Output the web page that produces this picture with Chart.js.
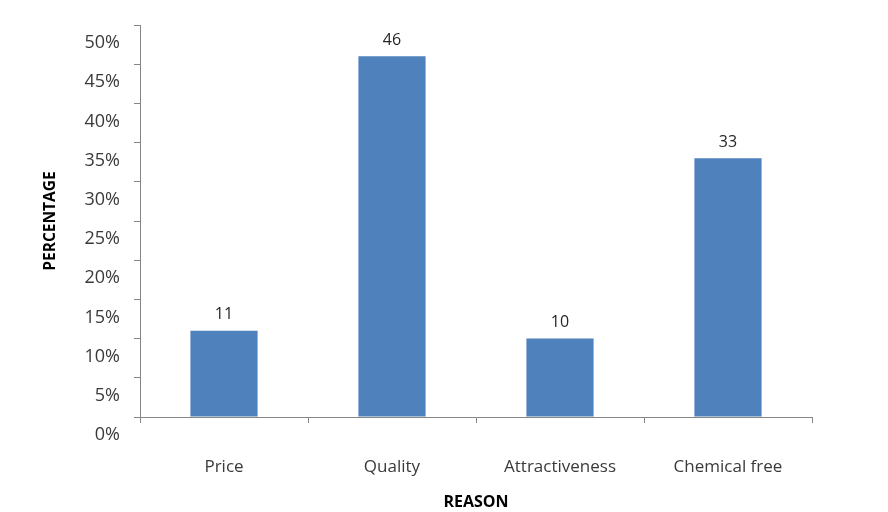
<!DOCTYPE html>
<html>
<head>
<meta charset="utf-8">
<script src="https://cdn.jsdelivr.net/npm/chart.js@4"></script>
<style>
  body { margin: 0; background: #ffffff; }
</style>
</head>
<body>
<canvas id="graficaRazones" width="888" height="512"></canvas>
<script>
var categorias = ["Price", "Quality", "Attractiveness", "Chemical free"];
var valores = [11, 46, 10, 33];
var etiquetasEje = ["0%", "5%", "10%", "15%", "20%", "25%", "30%", "35%", "40%", "45%", "50%"];

var colorBarra = "#4f81bd";
var colorEje = "#868686";
var colorTexto = "#3a3a3a";
var fuente = '"Open Sans", "Liberation Sans", sans-serif';

// pinta el numero encima de cada barra
var etiquetasValores = {
    id: 'etiquetasValores',
    afterDatasetsDraw: function (chart) {
        var ctx = chart.ctx;
        var meta = chart.getDatasetMeta(0);
        ctx.save();
        ctx.font = '16px ' + fuente;
        ctx.fillStyle = "#262626";
        ctx.textAlign = "center";
        ctx.textBaseline = "middle";
        meta.data.forEach(function (barra, i) {
            ctx.fillText(valores[i], barra.x, barra.y - 16);
        });
        ctx.restore();
    }
};

var ctx = document.getElementById('graficaRazones').getContext('2d');

new Chart(ctx, {
    type: 'bar',
    data: {
        labels: categorias,
        datasets: [{
            data: valores,
            backgroundColor: colorBarra,
            barPercentage: 0.4,
            categoryPercentage: 1
        }]
    },
    options: {
        responsive: false,
        animation: false,
        layout: { padding: { top: 25, right: 76, left: 0, bottom: 0 } },
        plugins: {
            legend: { display: false },
            tooltip: { enabled: false }
        },
        scales: {
            x: {
                grid: {
                    drawOnChartArea: false,
                    drawTicks: true,
                    tickLength: 6,
                    color: colorEje,
                    offset: true
                },
                border: { color: colorEje },
                ticks: {
                    color: colorTexto,
                    font: { family: fuente, size: 17 },
                    padding: 34,
                    maxRotation: 0
                },
                title: {
                    display: true,
                    text: "REASON",
                    color: "#000000",
                    font: { family: fuente, size: 16, weight: 'bold' },
                    padding: { top: 1, bottom: 0 }
                },
                afterFit: function (escala) { escala.height = 95; }
            },
            y: {
                min: 0,
                max: 50,
                grid: {
                    drawOnChartArea: false,
                    drawTicks: true,
                    tickLength: 6,
                    color: colorEje
                },
                border: { color: colorEje },
                ticks: {
                    stepSize: 5,
                    color: colorTexto,
                    font: { family: fuente, size: 18 },
                    padding: 14,
                    labelOffset: 18,
                    callback: function (valor, indice) { return etiquetasEje[indice]; }
                },
                title: {
                    display: true,
                    text: "PERCENTAGE",
                    color: "#000000",
                    font: { family: fuente, size: 15.5, weight: 'bold' },
                    padding: { top: 41, bottom: 0 }
                },
                afterFit: function (escala) { escala.width = 140; }
            }
        }
    },
    plugins: [etiquetasValores]
});
</script>
</body>
</html>
